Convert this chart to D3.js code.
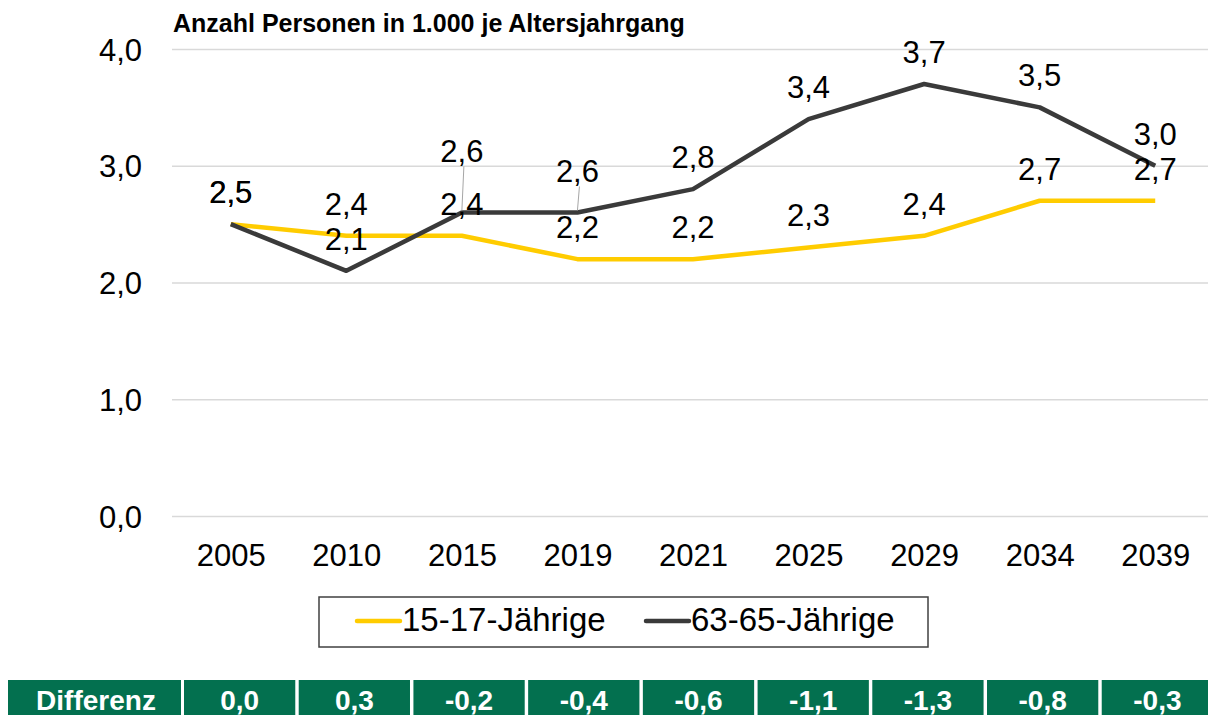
<!DOCTYPE html>
<html><head><meta charset="utf-8">
<script src="https://cdn.jsdelivr.net/npm/d3@7"></script>
<style>body{margin:0;background:#fff} svg{display:block} text{font-family:"Liberation Sans",Arial,sans-serif}</style>
</head><body><svg id="c" width="1208" height="715"></svg>
<script>
const years = ["2005","2010","2015","2019","2021","2025","2029","2034","2039"];
const youth = [2.5,2.4,2.4,2.2,2.2,2.3,2.4,2.7,2.7];
const seniors = [2.5,2.1,2.6,2.6,2.8,3.4,3.7,3.5,3.0];
const differenz = [0.0,0.3,-0.2,-0.4,-0.6,-1.1,-1.3,-0.8,-0.3];
const yTicks = [0,1,2,3,4];
const seriesNames = ["15-17-Jährige","63-65-Jährige"];
const title = "Anzahl Personen in 1.000 je Altersjahrgang";
const tableHeader = "Differenz";

const de = d3.formatLocale({decimal:",", thousands:".", grouping:[3], currency:["","€"], minus:"-"});
const fmt = de.format(".1f");

const svg = d3.select("#c");
const W = 1208, H = 715;
const x = d3.scalePoint().domain(years).range([173, 1213]).padding(0.5);
const y = d3.scaleLinear().domain([0,4]).range([516, 49]);

const colors = {youth:"#FFCC00", seniors:"#3a3a3a"};

// title
svg.append("text").attr("x",173).attr("y",32).attr("font-size",25).attr("font-weight","bold").attr("fill","#000").text(title);

// y axis + grid
const ya = svg.append("g").attr("transform","translate(172,0)")
  .call(d3.axisLeft(y).tickValues(yTicks).tickFormat(fmt).tickSize(-(W-172)).tickPadding(30));
ya.select(".domain").remove();
ya.selectAll(".tick line").attr("stroke","#d9d9d9").attr("stroke-width",1.3);
ya.selectAll(".tick text").attr("font-size",31).attr("fill","#000").attr("font-family","Liberation Sans, Arial, sans-serif").attr("dy","0.36em");

// x axis
const xa = svg.append("g").attr("transform","translate(0,516)")
  .call(d3.axisBottom(x).tickSize(0));
xa.select(".domain").remove();
xa.selectAll(".tick text").attr("font-size",31).attr("fill","#000").attr("font-family","Liberation Sans, Arial, sans-serif").attr("y",50).attr("dy",0);

// lines
const line = d3.line().x((d,i)=>x(years[i])).y(d=>y(d));
svg.append("path").datum(youth).attr("d",line).attr("fill","none").attr("stroke",colors.youth).attr("stroke-width",4.5).attr("stroke-linejoin","round");
svg.append("path").datum(seniors).attr("d",line).attr("fill","none").attr("stroke",colors.seniors).attr("stroke-width",4.5).attr("stroke-linejoin","round");

// data labels
const baseOff = 21;
const seniorExtra = {2:29, 3:9}; // leader-lined labels moved up
function labels(vals, extra){
  vals.forEach((v,i)=>{
    const px = x(years[i]), py = y(v);
    const ex = (extra && extra[i]) || 0;
    if (ex) {
      svg.append("line").attr("x1",px).attr("y1",py-2).attr("x2",px+2).attr("y2",py-baseOff-ex+4)
        .attr("stroke","#a6a6a6").attr("stroke-width",1);
    }
    svg.append("text").attr("x",px).attr("y",py-baseOff-ex).attr("text-anchor","middle")
      .attr("font-size",31).attr("fill","#000").text(fmt(v));
  });
}
labels(youth, null);
labels(seniors, seniorExtra);

// legend
const lg = svg.append("g");
lg.append("rect").attr("x",319).attr("y",597).attr("width",609).attr("height",50).attr("fill","#fff").attr("stroke","#404040").attr("stroke-width",1.5);
const legItems = [{name:seriesNames[0], c:colors.youth, x:357},{name:seriesNames[1], c:colors.seniors, x:646}];
legItems.forEach(it=>{
  lg.append("line").attr("x1",it.x).attr("x2",it.x+43).attr("y1",621).attr("y2",621).attr("stroke",it.c).attr("stroke-width",4.5).attr("stroke-linecap","round");
  lg.append("text").attr("x",it.x+45).attr("y",631).attr("font-size",33).attr("fill","#000").text(it.name);
});

// table
const tb = d3.scaleBand().domain(years).range([184,1213]).paddingInner(0.03).paddingOuter(0);
const green = "#03704F";
const tg = svg.append("g");
tg.append("rect").attr("x",8).attr("y",680).attr("width",173).attr("height",40).attr("fill",green);
tg.append("text").attr("x",96).attr("y",710).attr("text-anchor","middle").attr("font-size",28).attr("font-weight","bold").attr("fill","#fff").text(tableHeader);
years.forEach((yr,i)=>{
  tg.append("rect").attr("x",tb(yr)).attr("y",680).attr("width",tb.bandwidth()).attr("height",40).attr("fill",green);
  tg.append("text").attr("x",tb(yr)+tb.bandwidth()/2).attr("y",710).attr("text-anchor","middle").attr("font-size",28).attr("font-weight","bold").attr("fill","#fff").text(fmt(differenz[i]));
});
</script></body></html>
